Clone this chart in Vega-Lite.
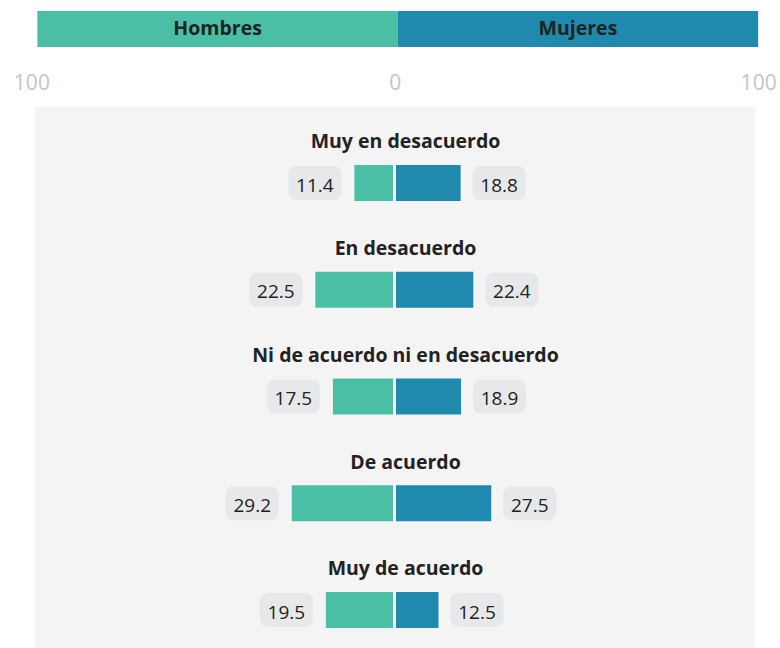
{
  "$schema": "https://vega.github.io/schema/vega-lite/v6.json",
  "background": "white",
  "padding": {"left": 12.5, "top": 11, "right": 0, "bottom": 0},
  "bounds": "flush",
  "spacing": 60,
  "config": {"view": {"stroke": null}, "font": "Open Sans"},
  "datasets": {
    "sexos": [
      {"sexo": "Hombres", "desde": -100, "hasta": 0, "centro": -50},
      {"sexo": "Mujeres", "desde": 0, "hasta": 100, "centro": 50}
    ],
    "encuesta": [
      {"respuesta": "Muy en desacuerdo", "hombres": 11.4, "mujeres": 18.8},
      {"respuesta": "En desacuerdo", "hombres": 22.5, "mujeres": 22.4},
      {"respuesta": "Ni de acuerdo ni en desacuerdo", "hombres": 17.5, "mujeres": 18.9},
      {"respuesta": "De acuerdo", "hombres": 29.2, "mujeres": 27.5},
      {"respuesta": "Muy de acuerdo", "hombres": 19.5, "mujeres": 12.5}
    ]
  },
  "vconcat": [
    {
      "width": 724,
      "height": 36,
      "data": {"name": "sexos"},
      "layer": [
        {
          "mark": {"type": "rect"},
          "encoding": {
            "x": {
              "field": "desde", "type": "quantitative",
              "scale": {"domain": [-100.8, 100.1], "nice": false, "zero": false},
              "axis": {
                "orient": "bottom", "values": [-100, 0, 100], "labelExpr": "abs(datum.value)",
                "title": null, "domain": false, "ticks": false, "tickSize": 0, "grid": false,
                "labelPadding": 42, "labelBaseline": "alphabetic", "labelFontSize": 21,
                "labelColor": "#c4c4c4", "labelFont": "Open Sans", "labelFlush": false, "labelOverlap": false,
                "labelOffset": {"condition": [{"test": "datum.value < 0", "value": -6}, {"test": "datum.value == 0", "value": -3}], "value": 0}
              }
            },
            "x2": {"field": "hasta"},
            "color": {"field": "sexo", "type": "nominal", "scale": {"domain": ["Hombres", "Mujeres"], "range": ["#4bbfa5", "#1f89ae"]}, "legend": null}
          }
        },
        {
          "mark": {"type": "text", "fontWeight": "bold", "fontSize": 19.5, "color": "#222222", "baseline": "alphabetic", "dy": 6},
          "encoding": {
            "x": {"field": "centro", "type": "quantitative"},
            "text": {"field": "sexo", "type": "nominal"}
          }
        }
      ]
    },
    {
      "bounds": "flush",
      "spacing": 0,
      "hconcat": [
        {
          "width": 360,
          "height": 541,
          "view": {"fill": "#f4f4f4", "stroke": null},
          "data": {"name": "encuesta"},
          "encoding": {
            "y": {
              "field": "respuesta", "type": "nominal",
              "scale": {"domain": ["Muy en desacuerdo", "En desacuerdo", "Ni de acuerdo ni en desacuerdo", "De acuerdo", "Muy de acuerdo"], "paddingInner": 0, "paddingOuter": 0.034},
              "axis": null
            }
          },
          "layer": [
            {
              "mark": {"type": "bar", "color": "#4bbfa5", "height": 36, "yOffset": 19, "x2Offset": -1.5},
              "encoding": {
                "x": {"field": "hombres", "type": "quantitative", "scale": {"domain": [0, 102.3], "reverse": true, "nice": false}, "axis": null},
                "x2": {"datum": 0}
              }
            },
            {
              "mark": {"type": "bar", "color": "#e7e8ea", "height": 34, "yOffset": 19, "cornerRadius": 8, "xOffset": -66, "x2Offset": -13},
              "encoding": {
                "x": {"field": "hombres", "type": "quantitative"},
                "x2": {"field": "hombres"}
              }
            },
            {
              "mark": {"type": "text", "fontSize": 19, "color": "#222222", "baseline": "alphabetic", "dy": 27.7, "dx": -39.5},
              "encoding": {
                "x": {"field": "hombres", "type": "quantitative"},
                "text": {"field": "hombres", "type": "quantitative", "format": ".1f"}
              }
            }
          ]
        },
        {
          "width": 361,
          "height": 541,
          "view": {"fill": "#f4f4f4", "stroke": null},
          "data": {"name": "encuesta"},
          "encoding": {
            "y": {
              "field": "respuesta", "type": "nominal",
              "scale": {"domain": ["Muy en desacuerdo", "En desacuerdo", "Ni de acuerdo ni en desacuerdo", "De acuerdo", "Muy de acuerdo"], "paddingInner": 0, "paddingOuter": 0.034},
              "axis": null
            }
          },
          "layer": [
            {
              "mark": {"type": "bar", "color": "#1f89ae", "height": 36, "yOffset": 19, "x2Offset": 1.5},
              "encoding": {
                "x": {"field": "mujeres", "type": "quantitative", "scale": {"domain": [0, 102.6], "nice": false}, "axis": null},
                "x2": {"datum": 0}
              }
            },
            {
              "mark": {"type": "bar", "color": "#e7e8ea", "height": 34, "yOffset": 19, "cornerRadius": 8, "xOffset": 12, "x2Offset": 65},
              "encoding": {
                "x": {"field": "mujeres", "type": "quantitative"},
                "x2": {"field": "mujeres"}
              }
            },
            {
              "mark": {"type": "text", "fontSize": 19, "color": "#222222", "baseline": "alphabetic", "dy": 27.7, "dx": 38.5},
              "encoding": {
                "x": {"field": "mujeres", "type": "quantitative"},
                "text": {"field": "mujeres", "type": "quantitative", "format": ".1f"}
              }
            },
            {
              "mark": {"type": "text", "fontSize": 19.5, "fontWeight": "bold", "color": "#222222", "baseline": "alphabetic", "dy": -15.7, "dx": 11},
              "encoding": {
                "x": {"datum": 0, "type": "quantitative"},
                "text": {"field": "respuesta", "type": "nominal"}
              }
            }
          ]
        }
      ]
    }
  ]
}
